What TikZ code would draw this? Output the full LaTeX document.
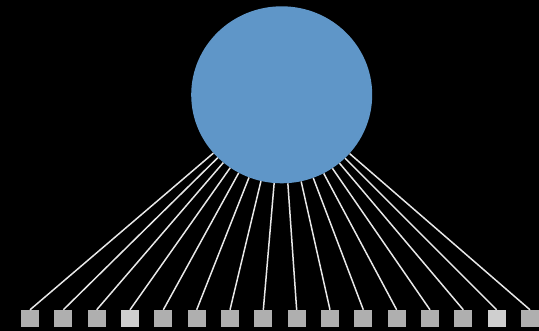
\documentclass[tikz,border=0pt]{standalone}
\usetikzlibrary{shapes.geometric}
\definecolor{ballblue}{HTML}{5F96C8}
\definecolor{boxgray}{HTML}{AFAFAF}
\definecolor{boxlight}{HTML}{CFCFCF}
\definecolor{wire}{HTML}{E8E8E8}
\tikzset{
  ball/.style={ellipse, fill=ballblue, draw=none, inner sep=0pt, minimum width=181pt, minimum height=177pt},
  leaf/.style={rectangle, fill=boxgray, draw=none, inner sep=0pt, minimum width=18pt, minimum height=17pt},
  leaflight/.style={leaf, fill=boxlight},
  link/.style={draw=wire, line width=1.5pt}
}
\begin{document}
\begin{tikzpicture}[x=1pt,y=-1pt]
\fill[black] (0,0) rectangle (539,331);
\useasboundingbox (0,0) rectangle (539,331);
\node[ball] (c) at (281.7,94.8) {};
\foreach \i in {0,...,15}{
  \pgfmathsetmacro{\xx}{30+\i*33.333}
  \ifnum\i=3 \def\st{leaflight}\else\ifnum\i=14 \def\st{leaflight}\else\def\st{leaf}\fi\fi
  \node[\st] (s\i) at (\xx,318.5) {};
  \draw[link] (c) -- (s\i.north);
}
\end{tikzpicture}
\end{document}
